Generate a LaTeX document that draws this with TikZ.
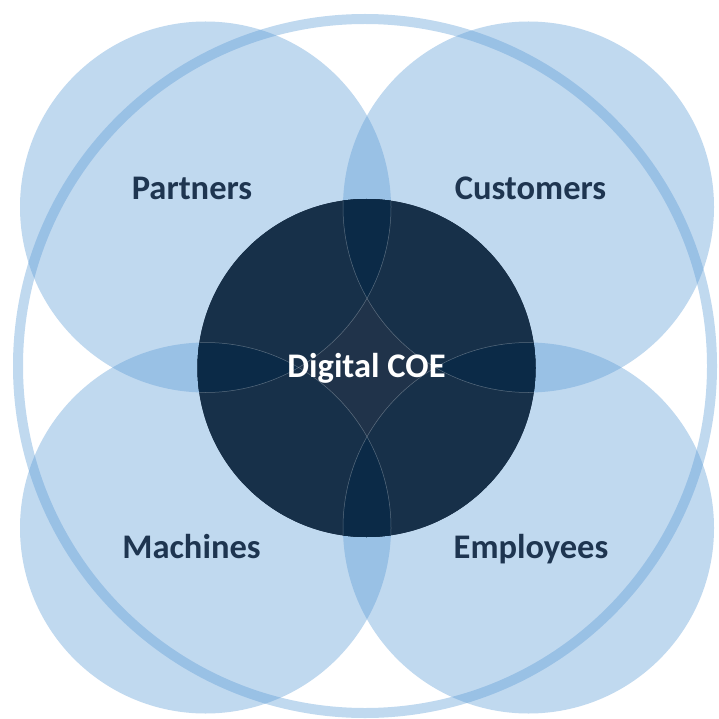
\documentclass[tikz,border=0pt]{standalone}
\usepackage{fontspec}
\setmainfont{Carlito}
\definecolor{petalblue}{HTML}{5B9BD5}
\definecolor{coedark}{HTML}{173049}
\definecolor{coelens}{HTML}{0B2A47}
\definecolor{coecenter}{HTML}{20334A}
\definecolor{labelblue}{HTML}{1E3550}
\begin{document}
\begin{tikzpicture}[x=1pt,y=-1pt,
  petal/.style={fill=petalblue, fill opacity=0.385},
  catlabel/.style={font=\fontsize{34.5}{40}\selectfont\bfseries, text=labelblue, anchor=base, inner sep=0pt},
  seam/.style={draw=white, draw opacity=0.3, line width=0.5pt}]
\useasboundingbox (0,0) rectangle (718,719);
\coordinate (P) at (205.5,207);
\coordinate (C) at (528.5,207);
\coordinate (M) at (205.5,528);
\coordinate (E) at (528.5,528);
\coordinate (O) at (366.5,368);
\coordinate (R) at (365,366);
\fill[petal] (P) circle[radius=185.5pt];
\fill[petal] (C) circle[radius=185.5pt];
\fill[petal] (M) circle[radius=185.5pt];
\fill[petal] (E) circle[radius=185.5pt];
\draw[draw=petalblue, draw opacity=0.385, line width=10pt] (R) circle[radius=347pt];
\fill[coecenter] (O) circle[radius=169pt];
\begin{scope}
  \clip (O) circle[radius=169pt];
  \fill[coedark] (P) circle[radius=185.5pt];
  \fill[coedark] (C) circle[radius=185.5pt];
  \fill[coedark] (M) circle[radius=185.5pt];
  \fill[coedark] (E) circle[radius=185.5pt];
  \begin{scope}
    \clip (P) circle[radius=185.5pt];
    \fill[coelens] (C) circle[radius=185.5pt];
    \fill[coelens] (M) circle[radius=185.5pt];
  \end{scope}
  \begin{scope}
    \clip (E) circle[radius=185.5pt];
    \fill[coelens] (C) circle[radius=185.5pt];
    \fill[coelens] (M) circle[radius=185.5pt];
  \end{scope}
  \draw[seam] (P) circle[radius=185.5pt];
  \draw[seam] (C) circle[radius=185.5pt];
  \draw[seam] (M) circle[radius=185.5pt];
  \draw[seam] (E) circle[radius=185.5pt];
\end{scope}
\node[catlabel] (partners) at (192,200) {Partners};
\node[catlabel] (customers) at (530.5,200) {Customers};
\node[catlabel] (machines) at (191.5,558) {Machines};
\node[catlabel] (employees) at (531,558) {Employees};
\node[catlabel, text=white] (coe) at (366.5,377.5) {Digital COE};
\end{tikzpicture}
\end{document}
